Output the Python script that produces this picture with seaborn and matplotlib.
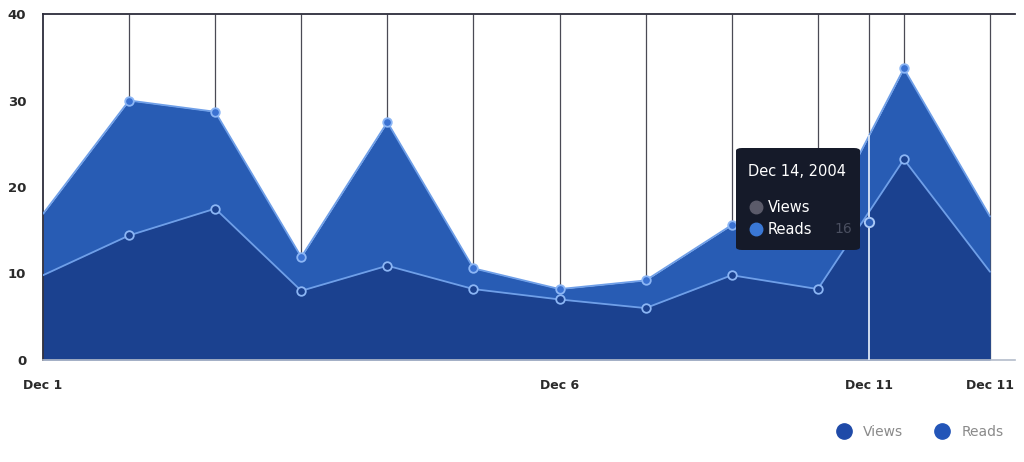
import matplotlib
matplotlib.use("Agg")
import matplotlib.pyplot as plt
from matplotlib.lines import Line2D
from matplotlib.patches import FancyBboxPatch
import numpy as np
import pandas as pd
import seaborn as sns

# data
views = [9.8, 14.4, 17.5, 8.0, 10.9, 8.2, 7.0, 6.0, 9.8, 8.2, 23.2, 10.2]
reads = [16.9, 30.0, 28.7, 11.9, 27.5, 10.6, 8.2, 9.2, 15.6, 14.5, 33.7, 16.6]
tick_pos = [0, 6, 9.6, 11]
tick_labels = ["Dec 1", "Dec 6", "Dec 11", "Dec 11"]
y_ticks = [0, 10, 20, 30, 40]
hover_x = 9.6
hover_value = 16
tooltip_title = "Dec 14, 2004"

df = pd.DataFrame({"idx": np.arange(len(views)), "Views": views, "Reads": reads})

VIEWS_FILL = "#1b418f"
READS_FILL = "#285cb4"
EDGE = "#6f9fe8"

sns.set_theme(style="white")
plt.rcParams["font.family"] = ["DejaVu Sans"]

fig = plt.figure(figsize=(10.24, 4.62), dpi=100)
ax = fig.add_axes([43 / 1024, 1 - 360 / 462, (1015 - 43) / 1024, (360 - 14) / 462])

# vertical grid lines behind the areas
ax.vlines(df["idx"][1:], 0, 40, color="#4a4a55", lw=0.9, zorder=0)
ax.vlines([hover_x], 0, 40, color="#4a4a55", lw=0.9, zorder=0)

ax.fill_between(df["idx"], 0, df["Reads"], color=READS_FILL, lw=0, zorder=1)
ax.fill_between(df["idx"], 0, df["Views"], color=VIEWS_FILL, lw=0, zorder=2)
sns.lineplot(data=df, x="idx", y="Reads", color=EDGE, lw=1.3, ax=ax, zorder=3)
sns.lineplot(data=df, x="idx", y="Views", color=EDGE, lw=1.3, ax=ax, zorder=3)

inner = df.iloc[1:-1]
ax.scatter(inner["idx"], inner["Reads"], s=38, facecolor="#3b72d2",
           edgecolor="#8cb6f5", lw=1.3, zorder=5)
ax.scatter(inner["idx"], inner["Views"], s=38, facecolor=VIEWS_FILL,
           edgecolor="#8cb6f5", lw=1.3, zorder=5)

# hover crosshair and point
top_at_hover = np.interp(hover_x, df["idx"], df["Reads"])
ax.vlines([hover_x], 0, top_at_hover, color="#dce7f7", lw=1.3, zorder=4)
ax.scatter([hover_x], [hover_value], s=45, facecolor="#2d5fb8",
           edgecolor="#a9c8f7", lw=1.4, zorder=6)

ax.set_xlim(0, 11 + 25 / 86)
ax.set_ylim(0, 40)
ax.set_xticks(tick_pos)
ax.set_xticklabels(tick_labels)
ax.set_yticks(y_ticks)
ax.set_xlabel("")
ax.set_ylabel("")
ax.tick_params(axis="x", length=0, pad=14, labelsize=9, labelcolor="#2a2a2a")
ax.tick_params(axis="y", length=4, width=1, color="#333", pad=8,
               labelsize=9.5, labelcolor="#2a2a2a")
for lab in ax.get_yticklabels() + ax.get_xticklabels():
    lab.set_fontweight("bold")

ax.spines["right"].set_visible(False)
for side in ("left", "top"):
    ax.spines[side].set_color("#2c2c3a")
    ax.spines[side].set_linewidth(1.3)
ax.spines["bottom"].set_color("#b4bccb")
ax.spines["bottom"].set_linewidth(1.2)

# tooltip
W, H = 1024, 462
box = FancyBboxPatch((736 / W, 1 - 250 / H), 124 / W, 102 / H,
                     boxstyle="round,pad=0,rounding_size=0.006",
                     transform=fig.transFigure, facecolor="#151a29",
                     edgecolor="none", zorder=10)
fig.patches.append(box)
fig.text(748 / W, 1 - 171 / H, tooltip_title, color="white", fontsize=10.5,
         va="center", ha="left", zorder=11)
fig.add_artist(Line2D([756 / W], [1 - 207 / H], marker="o", markersize=9,
                      color="#5b5b6a", transform=fig.transFigure, zorder=11))
fig.add_artist(Line2D([756 / W], [1 - 229 / H], marker="o", markersize=9,
                      color="#3a78d6", transform=fig.transFigure, zorder=11))
fig.text(768 / W, 1 - 207 / H, "Views", color="white", fontsize=10.5,
         va="center", ha="left", zorder=11)
fig.text(768 / W, 1 - 229 / H, "Reads", color="white", fontsize=10.5,
         va="center", ha="left", zorder=11)
fig.text(852 / W, 1 - 229 / H, str(hover_value), color="#4a4f60", fontsize=10,
         va="center", ha="right", zorder=11)

# legend
handles = [
    Line2D([], [], marker="o", ls="", markersize=11, color="#1f4aa8", label="Views"),
    Line2D([], [], marker="o", ls="", markersize=11, color="#2355b8", label="Reads"),
]
fig.legend(handles=handles, loc="center", bbox_to_anchor=(917 / W, 1 - 432 / H),
           ncol=2, frameon=False, handletextpad=0.4, columnspacing=1.8,
           labelcolor="#8a8a8a", fontsize=10)

fig.savefig("out.png", dpi=100)
